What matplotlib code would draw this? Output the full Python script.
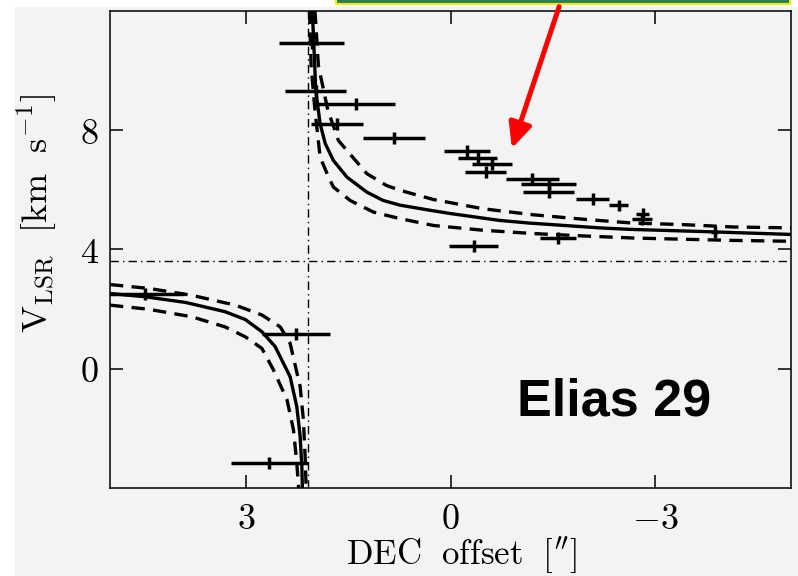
import matplotlib
matplotlib.use('Agg')
import matplotlib.pyplot as plt
from matplotlib.patches import Rectangle, FancyArrowPatch

plt.rcParams['mathtext.fontset'] = 'cm'

# position-velocity points (DEC offset ["], V_LSR [km/s]) with error bars
pt_x    = [2.04, 1.98, 1.39, 1.67, 0.83, -0.24, -0.40, -0.61, -0.52, -1.20, -1.44, -1.44,
           -2.09, -2.47, -2.82, -2.81, -3.88, -1.58, -0.34, 4.49, 2.27, 2.66]
pt_v    = [10.92, 9.32, 8.88, 8.21, 7.74, 7.29, 7.07, 6.85, 6.60, 6.37, 6.18, 5.91,
           5.70, 5.47, 5.20, 5.01, 4.58, 4.39, 4.10, 2.50, 1.15, -3.16]
pt_xerr = [0.48, 0.45, 0.57, 0.38, 0.45, 0.34, 0.29, 0.29, 0.30, 0.39, 0.40, 0.38,
           0.24, 0.14, 0.10, 0.15, 0.05, 0.27, 0.36, 0.58, 0.50, 0.57]
pt_verr = 0.2

# Keplerian curves, red-shifted side
kep_x     = [2.03, 2.01, 1.98, 1.95, 1.915, 1.84, 1.72, 1.52, 1.23, 0.99, 0.74, 0.30, 0.0,
             -0.72, -1.16, -2.19, -2.63, -3.66, -5.0]
kep_v     = [12.0, 11.05, 9.38, 8.82, 8.22, 7.55, 6.98, 6.42, 5.92, 5.64, 5.48, 5.31, 5.20,
             4.97, 4.88, 4.72, 4.67, 4.60, 4.50]
kep_hi_x  = [1.99, 1.94, 1.80, 1.67, 1.647, 1.23, 0.94, 0.74, 0.60, 0.25, -0.48, -1.21,
             -1.95, -2.68, -3.41, -4.15, -5.0]
kep_hi_v  = [12.0, 10.16, 8.65, 7.82, 7.65, 6.54, 6.14, 5.98, 5.89, 5.67, 5.36, 5.16,
             5.01, 4.88, 4.83, 4.75, 4.72]
kep_lo_x  = [2.07, 2.047, 1.988, 1.949, 1.915, 1.79, 1.72, 1.475, 1.133, 0.742, 0.25, -0.48,
             -1.21, -1.95, -2.68, -3.41, -4.15, -5.0]
kep_lo_v  = [12.0, 10.16, 8.60, 7.82, 7.09, 6.42, 6.09, 5.64, 5.25, 5.03, 4.80, 4.64,
             4.53, 4.45, 4.38, 4.34, 4.30, 4.27]

# blue-shifted side
bkep_x    = [5.0, 4.48, 3.89, 3.31, 3.015, 2.77, 2.575, 2.355, 2.257, 2.208, 2.183, 2.175]
bkep_v    = [2.52, 2.41, 2.22, 1.91, 1.65, 1.24, 0.74, -0.27, -1.27, -2.27, -3.28, -4.0]
bkep_hi_x = [5.0, 4.43, 3.80, 3.16, 2.77, 2.50, 2.355, 2.208, 2.16, 2.135, 2.12]
bkep_hi_v = [2.82, 2.69, 2.46, 2.13, 1.80, 1.40, 0.85, -0.60, -1.72, -2.94, -4.0]
bkep_lo_x = [5.0, 4.43, 3.80, 3.31, 3.015, 2.77, 2.60, 2.40, 2.306, 2.257, 2.23]
bkep_lo_v = [2.13, 1.99, 1.74, 1.40, 1.07, 0.68, -0.04, -1.05, -2.05, -3.16, -4.0]

v_sys = 3.62
x_star = 2.09

xticks = [3, 0, -3]
yticks = [0, 4, 8]

fig = plt.figure(figsize=(7.98, 5.76), dpi=100, facecolor='white')
# grey panel behind everything
fig.patches.append(Rectangle((15 / 798, 0), 1, 1 - 7 / 576, transform=fig.transFigure,
                             facecolor='#f3f3f3', edgecolor='none', zorder=-10))
ax = fig.add_axes([110 / 798, 1 - 488 / 576, 681 / 798, 477.3 / 576])
ax.set_facecolor('#f3f3f3')

dash = (0, (4, 2.5))
for xs, vs, ls in [(kep_x, kep_v, '-'), (kep_hi_x, kep_hi_v, dash), (kep_lo_x, kep_lo_v, dash),
                   (bkep_x, bkep_v, '-'), (bkep_hi_x, bkep_hi_v, dash), (bkep_lo_x, bkep_lo_v, dash)]:
    ax.plot(xs, vs, color='black', lw=2.4, linestyle=ls, solid_joinstyle='round')

ax.axhline(v_sys, color='black', lw=1.0, linestyle=(0, (6, 3, 1, 3)))
ax.axvline(x_star, color='black', lw=1.0, linestyle=(0, (6, 3, 1, 3)))

ax.errorbar(pt_x, pt_v, xerr=pt_xerr, yerr=pt_verr, fmt='none', ecolor='black',
            elinewidth=2.5, capsize=0)

ax.set_xlim(5, -5)
ax.set_ylim(-4, 12)
ax.set_xticks(xticks)
ax.set_xticklabels([f'${t}$' for t in xticks])
ax.set_yticks(yticks)
ax.set_yticklabels([f'${t}$' for t in yticks])
ax.tick_params(direction='in', length=9.5, width=1.1, top=True, right=True, labelsize=26)
ax.tick_params(axis='x', pad=10)
ax.tick_params(axis='y', pad=8)
for s in ax.spines.values():
    s.set_linewidth(1.1)

ax.text(-2.40, -1.11, 'Elias 29', fontsize=37.5, fontweight='bold',
        family='Liberation Sans', ha='center', va='center')

fig.text(37 / 798, 1 - 213 / 576, r'$\mathrm{V_{LSR}\ \ [km\ \ s^{-1}]}$', fontsize=26,
         rotation=90, ha='center', va='center')
fig.text(462 / 798, 1 - 565 / 576, r'$\mathrm{DEC\ \ offset\ \ [^{\prime\prime}]}$', fontsize=25,
         ha='center', va='baseline')

# highlight box at top and red arrow pointing at the bump
fig.patches.append(Rectangle((336 / 798, 1 - 4 / 576), 454 / 798, 10 / 576,
                             transform=fig.transFigure, facecolor='#2e7d5b',
                             edgecolor='#f0f000', lw=1.5, zorder=5))
arrow = FancyArrowPatch((560 / 798, 1 - 4 / 576), (511 / 798, 1 - 151 / 576),
                        transform=fig.transFigure, arrowstyle='-|>,head_length=0.75,head_width=0.35',
                        mutation_scale=20, color='red', lw=3.6, zorder=6)
fig.patches.append(arrow)

fig.savefig('out.png', dpi=100, facecolor=fig.get_facecolor())
